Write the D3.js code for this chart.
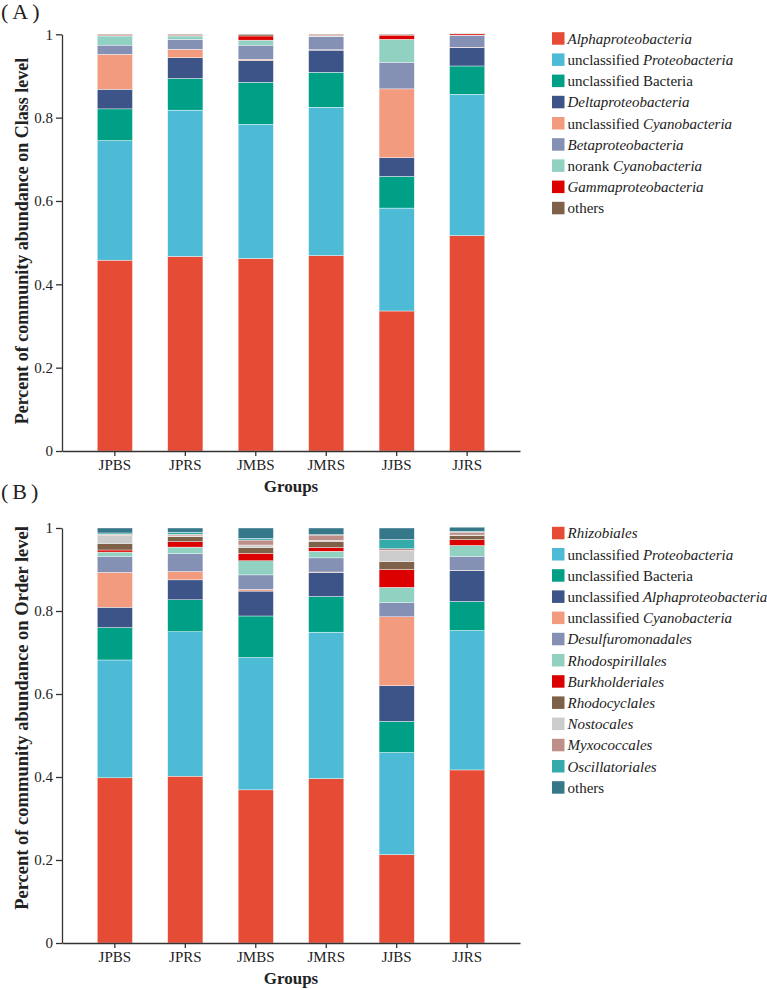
<!DOCTYPE html>
<html>
<head>
<meta charset="utf-8">
<script src="https://cdn.jsdelivr.net/npm/d3@7"></script>
<style>
  body { margin: 0; background: #fff; }
  text { font-family: "Liberation Serif", "Times New Roman", serif; fill: #222; }
</style>
</head>
<body>
<script>
const groups = ["JPBS", "JPRS", "JMBS", "JMRS", "JJBS", "JJRS"];
const yTicks = [0, 0.2, 0.4, 0.6, 0.8, 1];

// class level, bottom -> top; label parts are [plain, italic]
const classLabels = [
  ["", "Alphaproteobacteria"],
  ["unclassified ", "Proteobacteria"],
  ["unclassified Bacteria", ""],
  ["", "Deltaproteobacteria"],
  ["unclassified ", "Cyanobacteria"],
  ["", "Betaproteobacteria"],
  ["norank ", "Cyanobacteria"],
  ["", "Gammaproteobacteria"],
  ["others", ""]
];
const classColors = ["#E64B35", "#4DBBD5", "#00A087", "#3C5488", "#F39B7F", "#8491B4", "#91D1C2", "#DC0000", "#7E6148"];
const classValues = [
  [0.458, 0.467, 0.462, 0.469, 0.336, 0.517],
  [0.287, 0.351, 0.322, 0.356, 0.247, 0.339],
  [0.076, 0.076, 0.101, 0.084, 0.076, 0.068],
  [0.047, 0.050, 0.052, 0.053, 0.045, 0.044],
  [0.084, 0.020, 0.003, 0.001, 0.165, 0.001],
  [0.022, 0.024, 0.034, 0.031, 0.064, 0.028],
  [0.022, 0.008, 0.012, 0.002, 0.055, 0.001],
  [0.002, 0.002, 0.010, 0.002, 0.010, 0.003],
  [0.002, 0.002, 0.004, 0.002, 0.002, 0.001]
];

// order level
const orderLabels = [
  ["", "Rhizobiales"],
  ["unclassified ", "Proteobacteria"],
  ["unclassified Bacteria", ""],
  ["unclassified ", "Alphaproteobacteria"],
  ["unclassified ", "Cyanobacteria"],
  ["", "Desulfuromonadales"],
  ["", "Rhodospirillales"],
  ["", "Burkholderiales"],
  ["", "Rhodocyclales"],
  ["", "Nostocales"],
  ["", "Myxococcales"],
  ["", "Oscillatoriales"],
  ["others", ""]
];
const orderColors = ["#E64B35", "#4DBBD5", "#00A087", "#3C5488", "#F39B7F", "#8491B4", "#91D1C2", "#DC0000", "#7E6148", "#CCCCCC", "#BE8F88", "#34AAAA", "#36778A"];
const orderValues = [
  [0.398, 0.402, 0.369, 0.396, 0.213, 0.417],
  [0.284, 0.348, 0.319, 0.353, 0.246, 0.336],
  [0.078, 0.077, 0.100, 0.086, 0.075, 0.070],
  [0.049, 0.048, 0.060, 0.058, 0.086, 0.074],
  [0.084, 0.020, 0.004, 0.001, 0.166, 0.001],
  [0.039, 0.043, 0.035, 0.034, 0.034, 0.034],
  [0.010, 0.016, 0.034, 0.016, 0.037, 0.026],
  [0.005, 0.013, 0.018, 0.009, 0.043, 0.014],
  [0.016, 0.012, 0.014, 0.015, 0.019, 0.010],
  [0.019, 0.002, 0.006, 0.002, 0.027, 0.001],
  [0.003, 0.004, 0.012, 0.013, 0.004, 0.007],
  [0.003, 0.005, 0.004, 0.001, 0.022, 0.002],
  [0.012, 0.010, 0.025, 0.016, 0.028, 0.010]
];

const svg = d3.select("body").append("svg")
  .attr("width", 767)
  .attr("height", 990);

function drawPanel(opt) {
  const {tag, tagY, top, bottom, labels, colors, values, yTitle, titleY, titleSize, legendTop} = opt;
  const left = 62, right = 520;

  const keys = labels.map((d, i) => "k" + i);
  const rows = groups.map((g, j) => {
    const row = {group: g};
    keys.forEach((k, i) => { row[k] = values[i][j]; });
    return row;
  });
  const series = d3.stack().keys(keys)(rows);

  const x = d3.scaleBand().domain(groups).range([left, right]).padding(0.5);
  const y = d3.scaleLinear().domain([0, 1]).range([bottom, top]);

  // panel tag, baseline placed so the parens stay inside the page
  svg.append("text")
    .attr("x", 1).attr("y", tagY)
    .style("font-size", "22px")
    .style("letter-spacing", "4px")
    .text(tag);

  const g = svg.append("g");
  g.selectAll("g.layer")
    .data(series)
    .join("g")
    .attr("class", "layer")
    .attr("fill", (d, i) => colors[i])
    .selectAll("rect")
    .data(d => d)
    .join("rect")
    .attr("x", d => x(d.data.group))
    .attr("y", d => y(d[1]))
    .attr("width", x.bandwidth())
    .attr("height", d => Math.max(0, y(d[0]) - y(d[1])))
    .attr("stroke", "#fff")
    .attr("stroke-width", 0.4);

  const yAxis = g.append("g")
    .attr("transform", `translate(${left},0)`)
    .call(d3.axisLeft(y).tickValues(yTicks).tickSize(6).tickSizeOuter(0)
      .tickFormat(d => (d === 0 || d === 1) ? String(d) : d3.format(".1f")(d)));
  const xAxis = g.append("g")
    .attr("transform", `translate(0,${bottom})`)
    .call(d3.axisBottom(x).tickSize(5).tickSizeOuter(0));

  [yAxis, xAxis].forEach(a => {
    a.selectAll("path, line").attr("stroke", "#333").attr("stroke-width", 1.3);
    a.selectAll("text")
      .style("font-family", "'Liberation Serif', serif")
      .style("font-size", "15px")
      .attr("fill", "#222");
  });

  svg.append("text")
    .attr("x", (left + right) / 2)
    .attr("y", bottom + 41)
    .attr("text-anchor", "middle")
    .style("font-size", "17px")
    .style("font-weight", "bold")
    .text("Groups");

  svg.append("text")
    .attr("transform", `translate(24,${titleY}) rotate(-90)`)
    .attr("text-anchor", "middle")
    .attr("dominant-baseline", "middle")
    .style("font-size", titleSize)
    .style("font-weight", "bold")
    .text(yTitle);

  // legend
  const step = 21.2;
  const leg = svg.append("g");
  const item = leg.selectAll("g")
    .data(labels)
    .join("g")
    .attr("transform", (d, i) => `translate(552,${legendTop + i * step})`);
  item.append("rect")
    .attr("x", 0).attr("y", -6.5)
    .attr("width", 12.5).attr("height", 12.5)
    .attr("fill", (d, i) => colors[i]);
  const t = item.append("text")
    .attr("x", 15.5).attr("y", 0)
    .attr("dominant-baseline", "central")
    .style("font-size", "15px");
  t.append("tspan").text(d => d[0]);
  t.append("tspan").style("font-style", "italic").text(d => d[1]);
}

drawPanel({
  tag: "(A)", tagY: 19, top: 34.3, bottom: 451,
  labels: classLabels, colors: classColors, values: classValues,
  yTitle: "Percent of community abundance on Class level",
  titleY: 241, titleSize: "18px", legendTop: 38.7
});

drawPanel({
  tag: "(B)", tagY: 499, top: 528, bottom: 943,
  labels: orderLabels, colors: orderColors, values: orderValues,
  yTitle: "Percent of community abundance on Order level",
  titleY: 718, titleSize: "18.5px", legendTop: 533.3
});
</script>
</body>
</html>
